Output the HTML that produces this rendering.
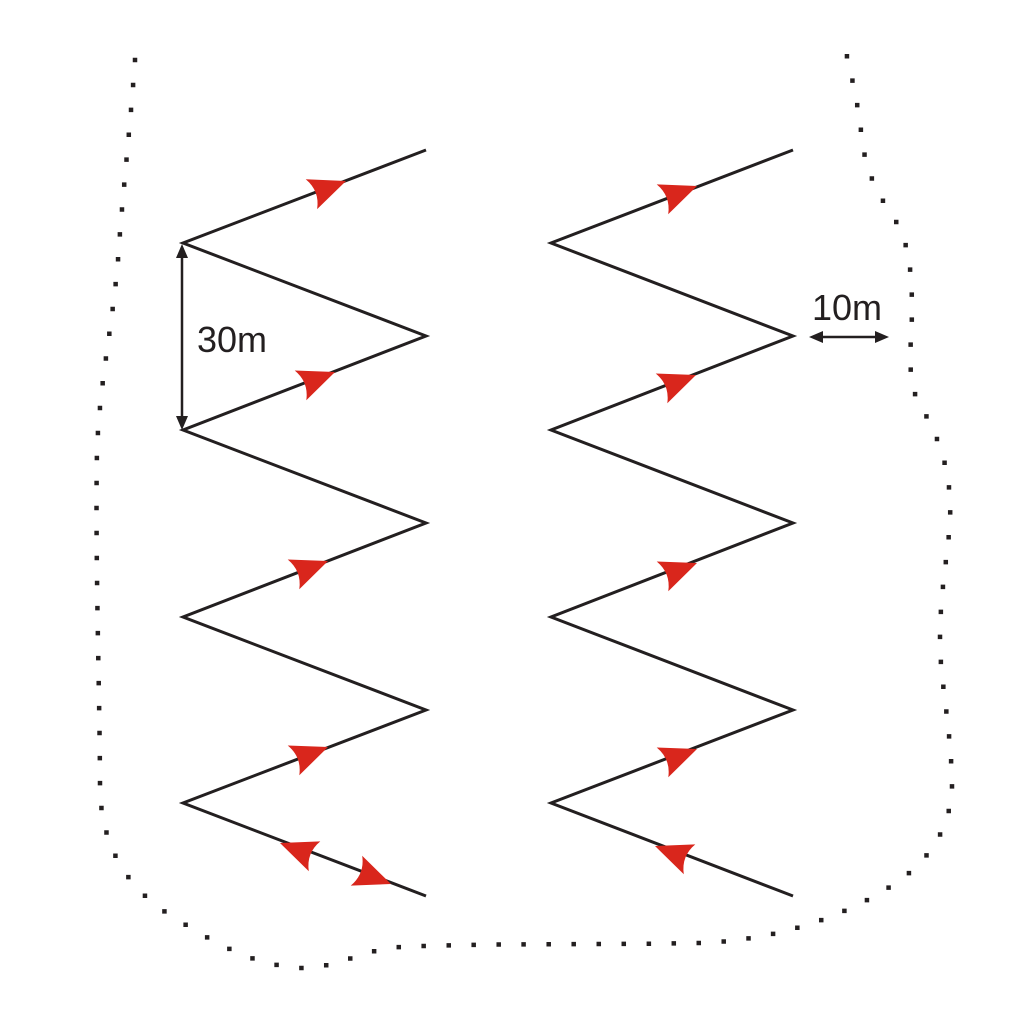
<!DOCTYPE html>
<html><head><meta charset="utf-8"><style>
html,body{margin:0;padding:0;background:#fff;}
svg{display:block;}
text{font-family:"Liberation Sans",sans-serif;fill:#231f20;}
</style></head><body>
<svg width="1027" height="1020" viewBox="0 0 1027 1020" xmlns="http://www.w3.org/2000/svg">
<defs>
<path id="ah" d="M0,0 L-37,-16 Q-28,0 -37,16 Z" fill="#d9261c"/>
<path id="bh" d="M0,0 L-14,-6 L-14,6 Z" fill="#231f20"/>
</defs>
<path d="M135,60 C130,130 122,200 118,260 C112,330 100,380 97,450 C95,560 100,700 100,790 C102,850 130,890 170,915 C210,940 250,965 300,968 C340,968 360,950 400,947 C480,943 600,945 700,943 C780,940 850,915 900,880 C935,855 953,820 952,780 C950,720 940,680 940,640 C940,580 952,540 950,500 C948,460 935,430 920,405 C905,380 912,340 912,310 C912,270 908,240 895,220 C875,190 866,170 862,140 C858,100 850,70 842,35"
 fill="none" stroke="#231f20" stroke-width="4.5" stroke-linecap="square" stroke-dasharray="0 25"/>
<polyline points="426,150 183,243 426,336 183,430 426,523 183,617 426,710 183,803 426,896" fill="none" stroke="#231f20" stroke-width="3"/>
<polyline points="793,150 551,243 793,336 551,430 793,523 551,617 793,710 551,803 793,896" fill="none" stroke="#231f20" stroke-width="3"/>
<use href="#ah" transform="translate(346,181) rotate(-20.9)"/>
<use href="#ah" transform="translate(335,372) rotate(-21.2)"/>
<use href="#ah" transform="translate(328,561) rotate(-21.2)"/>
<use href="#ah" transform="translate(328,747) rotate(-21.2)"/>
<use href="#ah" transform="translate(280,843) rotate(201)"/>
<use href="#ah" transform="translate(391,884) rotate(21)"/>
<use href="#ah" transform="translate(697,186) rotate(-21)"/>
<use href="#ah" transform="translate(696,375) rotate(-21.2)"/>
<use href="#ah" transform="translate(697,563) rotate(-21.2)"/>
<use href="#ah" transform="translate(697,749) rotate(-21.2)"/>
<use href="#ah" transform="translate(655,846) rotate(201)"/>
<line x1="182" y1="256" x2="182" y2="418" stroke="#231f20" stroke-width="2.5"/>
<use href="#bh" transform="translate(182,244) rotate(-90)"/>
<use href="#bh" transform="translate(182,430) rotate(90)"/>
<text x="197" y="352" font-size="36">30m</text>
<line x1="820" y1="337" x2="878" y2="337" stroke="#231f20" stroke-width="2.5"/>
<use href="#bh" transform="translate(809,337) rotate(180)"/>
<use href="#bh" transform="translate(889,337)"/>
<text x="812" y="320" font-size="36">10m</text>
</svg>
</body></html>
